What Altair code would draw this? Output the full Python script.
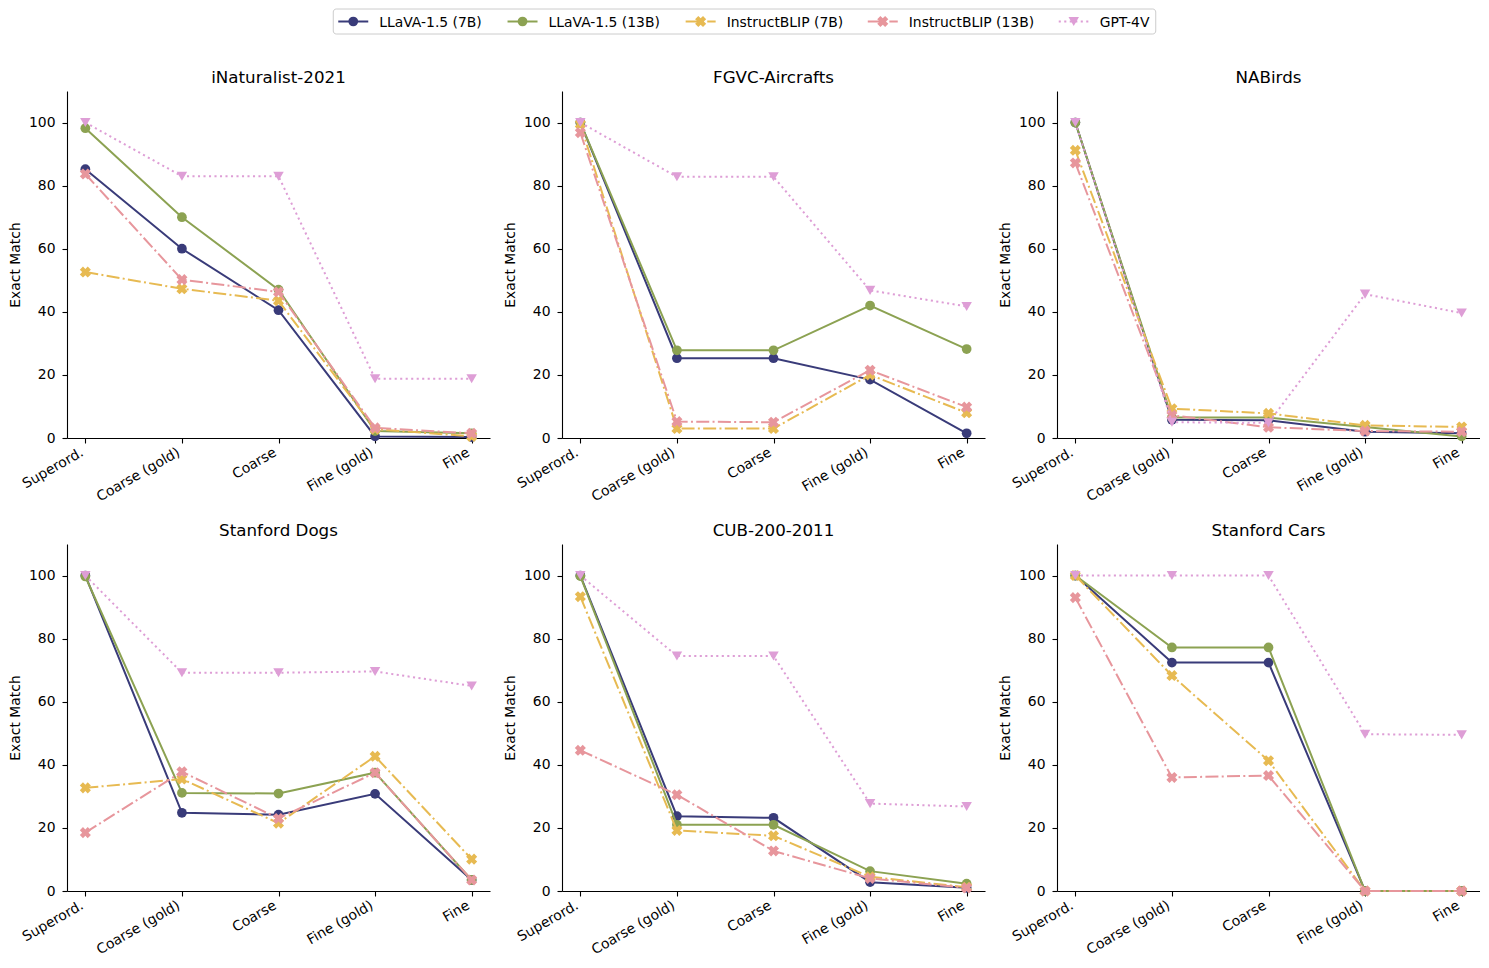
import altair as alt
import pandas as pd

# ---------------- data ----------------
categories = ["Superord.", "Coarse (gold)", "Coarse", "Fine (gold)", "Fine"]
models = ["LLaVA-1.5 (7B)", "LLaVA-1.5 (13B)", "InstructBLIP (7B)", "InstructBLIP (13B)", "GPT-4V"]
datasets = ["iNaturalist-2021", "FGVC-Aircrafts", "NABirds", "Stanford Dogs", "CUB-200-2011", "Stanford Cars"]

# one row per model (same order as `models`), one value per category
inaturalist = [
    [85.2, 60.0, 40.5, 0.5, 0.3],
    [98.2, 70.0, 47.0, 2.2, 1.5],
    [52.6, 47.3, 43.5, 2.8, 0.5],
    [83.7, 50.2, 46.3, 3.2, 1.5],
    [100.0, 83.0, 83.0, 18.8, 18.8],
]
fgvc = [
    [100.0, 25.3, 25.3, 18.5, 1.5],
    [100.0, 27.8, 27.8, 42.0, 28.2],
    [99.5, 3.0, 3.0, 20.0, 8.0],
    [96.8, 5.2, 5.0, 21.5, 9.8],
    [100.0, 82.8, 82.8, 46.8, 41.7],
]
nabirds = [
    [100.0, 5.8, 5.6, 2.0, 1.5],
    [100.0, 6.5, 6.5, 3.5, 0.5],
    [91.2, 9.3, 7.8, 4.0, 3.5],
    [87.2, 7.2, 3.4, 2.2, 2.0],
    [100.0, 5.0, 4.8, 45.6, 39.6],
]
dogs = [
    [100.0, 24.8, 24.2, 30.8, 3.5],
    [99.7, 31.1, 30.9, 37.5, 3.5],
    [32.7, 35.5, 21.5, 42.7, 10.1],
    [18.5, 37.8, 23.0, 37.5, 3.5],
    [100.0, 69.2, 69.2, 69.6, 65.0],
]
cub = [
    [100.0, 23.7, 23.2, 2.8, 1.0],
    [99.8, 21.0, 21.0, 6.3, 2.3],
    [93.3, 19.2, 17.5, 4.5, 1.2],
    [44.6, 30.5, 12.7, 4.0, 1.0],
    [100.0, 74.5, 74.5, 27.7, 26.8],
]
cars = [
    [100.0, 72.4, 72.4, 0.0, 0.0],
    [100.0, 77.2, 77.2, 0.0, 0.0],
    [100.0, 68.3, 41.3, 0.0, 0.0],
    [93.0, 36.0, 36.6, 0.0, 0.0],
    [100.0, 100.0, 100.0, 49.7, 49.5],
]
panel_values = [inaturalist, fgvc, nabirds, dogs, cub, cars]

# ---------------- styles ----------------
FONT = "DejaVu Sans"
styles = {
    "LLaVA-1.5 (7B)": dict(color="#393b79", dash=None, shape="circle", angle=0, size=95),
    "LLaVA-1.5 (13B)": dict(color="#8ca252", dash=None, shape="circle", angle=0, size=95),
    "InstructBLIP (7B)": dict(color="#e7ba52", dash=[13, 3.3, 2, 3.3], shape="cross", angle=45, size=125),
    "InstructBLIP (13B)": dict(color="#e7969c", dash=[13, 3.3, 2, 3.3], shape="cross", angle=45, size=125),
    "GPT-4V": dict(color="#de9ed6", dash=[2.1, 3.4], shape="triangle-down", angle=0, size=110),
}

PW, PH = 423, 347      # plot area of one panel
HSP = 72               # gap between plot areas (columns)
VSP = 106              # gap between plot areas (rows)
LEFT_AX = 59           # room used left of the first plot by the y axis
GRID_W = 3 * PW + 2 * HSP
LH = 25                # legend box height
LSP = 35               # legend box bottom -> top of the panel titles


def panel(name, rows):
    xaxis = alt.Axis(title=None, labelAngle=330, labelAlign="right", labelBaseline="top",
                     labelPadding=2, labelOffset=-7, tickSize=5)
    yaxis = alt.Axis(title="Exact Match", values=[0, 20, 40, 60, 80, 100], tickSize=5,
                     labelPadding=7, titlePadding=6)
    x = alt.X("category:N", sort=categories, scale=alt.Scale(type="point", padding=0.19), axis=xaxis)
    y = alt.Y("value:Q", scale=alt.Scale(domain=[0, 110], nice=False), axis=yaxis)
    layers = []
    for m, vals in zip(models, rows):
        st = styles[m]
        df = pd.DataFrame({"category": categories, "value": vals})
        lk = dict(color=st["color"], strokeWidth=2.0)
        if st["dash"]:
            lk["strokeDash"] = st["dash"]
        layers.append(alt.Chart(df).mark_line(**lk).encode(x=x, y=y))
        layers.append(alt.Chart(df).mark_point(shape=st["shape"], filled=True, size=st["size"],
                                               color=st["color"], opacity=1, angle=st["angle"])
                      .encode(x=x, y=y))
    return alt.layer(*layers).properties(
        width=PW, height=PH,
        title=alt.TitleParams(name, font=FONT, fontSize=16.7, fontWeight="normal", color="black", offset=4),
    )


panels = [panel(n, v) for n, v in zip(datasets, panel_values)]

# ---------------- legend ----------------
CW = {'L': .557, 'a': .613, 'V': .684, 'A': .684, '-': .361, '1': .636, '.': .318, '5': .636, ' ': .318,
      '(': .390, ')': .390, '7': .636, 'B': .686, '3': .636, 'I': .295, 'n': .634, 's': .521, 't': .392,
      'r': .411, 'u': .634, 'c': .550, 'P': .603, 'G': .775, 'T': .611, '4': .636}
LFS = 13.9


def text_w(s):
    return sum(CW.get(ch, .6) for ch in s) * LFS


HANDLE, HGAP, EGAP, LPAD = 30, 11, 24.5, 5
rel = []
pos = LPAD
for m in models:
    rel.append(pos)
    pos += HANDLE + HGAP + text_w(m) + EGAP
BOX_W = rel[-1] + HANDLE + HGAP + text_w(models[-1]) + 5
FULL_W = LEFT_AX + GRID_W + 1                  # whole drawing width
BOX_L = FULL_W / 2 - LEFT_AX - BOX_W / 2       # legend centred on the whole drawing

lx = alt.Scale(domain=[0, GRID_W], nice=False, zero=False)
box = alt.Chart(pd.DataFrame({"b1": [BOX_L], "b2": [BOX_L + BOX_W]})).mark_rect(
    fill="white", stroke="#cccccc", strokeWidth=1, cornerRadius=3
).encode(x=alt.X("b1:Q", scale=lx, axis=None), x2="b2:Q", y=alt.value(0), y2=alt.value(LH))
leg_layers = [box]
for m, r0 in zip(models, rel):
    st = styles[m]
    s0 = BOX_L + r0
    d = pd.DataFrame({"model": [m], "x1": [s0], "x2": [s0 + HANDLE], "xm": [s0 + HANDLE / 2],
                      "xt": [s0 + HANDLE + HGAP]})
    rk = dict(color=st["color"], strokeWidth=2.0)
    if st["dash"]:
        rk["strokeDash"] = st["dash"]
    leg_layers.append(alt.Chart(d).mark_rule(**rk).encode(
        x=alt.X("x1:Q", scale=lx, axis=None), x2="x2:Q", y=alt.value(LH / 2)))
    leg_layers.append(alt.Chart(d).mark_point(shape=st["shape"], filled=True, size=st["size"],
                                              color=st["color"], opacity=1, angle=st["angle"]).encode(
        x=alt.X("xm:Q", scale=lx, axis=None), y=alt.value(LH / 2)))
    leg_layers.append(alt.Chart(d).mark_text(align="left", baseline="middle", font=FONT, fontSize=LFS,
                                             color="black").encode(
        x=alt.X("xt:Q", scale=lx, axis=None), y=alt.value(LH / 2 + 1), text="model:N"))

legend = alt.layer(*leg_layers).properties(width=GRID_W, height=LH)

grid = alt.concat(*panels, columns=3, spacing={"row": VSP, "column": HSP}, bounds="flush")

chart = alt.vconcat(legend, grid, spacing=LSP).properties(
    padding={"left": 0, "top": 0, "right": 0, "bottom": 0}
).configure_view(stroke=None).configure_axis(
    labelFont=FONT, labelFontSize=13.9, labelColor="black", titleFont=FONT, titleFontSize=13.9,
    titleFontWeight="normal", titleColor="black", domainColor="black", tickColor="black",
    domainWidth=1.1, tickWidth=1.1, grid=False,
)

chart.save("out.html", embed_options={"renderer": "svg", "actions": False})
